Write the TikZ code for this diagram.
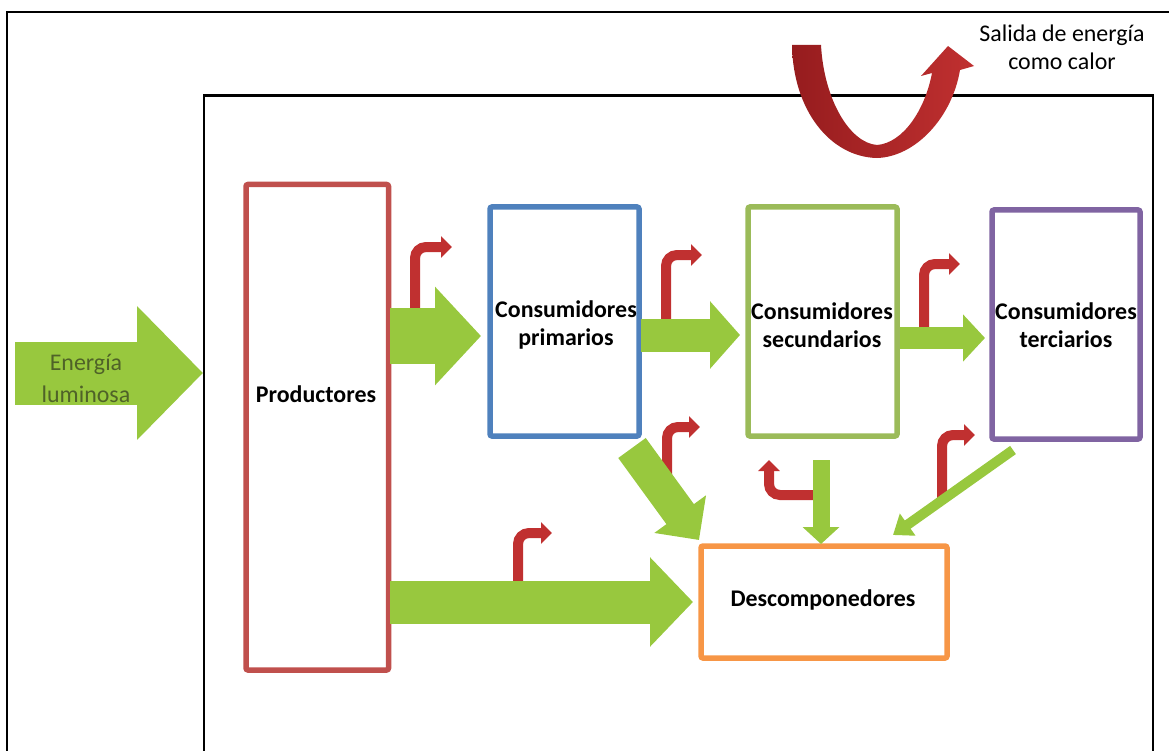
\documentclass[tikz,border=0pt]{standalone}
\usepackage{fontspec}
\setmainfont{Carlito}
\usetikzlibrary{arrows.meta}
\definecolor{prodred}{RGB}{192,80,77}
\definecolor{primblue}{RGB}{79,129,189}
\definecolor{secgreen}{RGB}{155,187,89}
\definecolor{terpurple}{RGB}{128,100,162}
\definecolor{descorange}{RGB}{247,150,70}
\definecolor{flowgreen}{RGB}{152,200,62}
\definecolor{heatred}{RGB}{192,48,48}
\definecolor{heatdark}{RGB}{150,28,30}
\definecolor{olivetext}{RGB}{79,98,40}
\begin{document}
\begin{tikzpicture}[x=1bp,y=-1bp,
  box/.style={draw, line width=5.5bp, rounded corners=2bp, inner sep=0pt, fill=none},
  lbl/.style={font=\fontsize{24}{28}\selectfont\bfseries, align=center, text=black, inner sep=0pt},
  plain/.style={font=\fontsize{24}{28}\selectfont, align=center, inner sep=0pt},
  frame/.style={draw=black, line width=2.5bp},
  gflow/.style={draw=flowgreen, line cap=butt},
  heat/.style={draw=heatred, line width=10bp, rounded corners=11bp,
    -{Triangle[length=11bp,width=21bp]}}]
\useasboundingbox (0,0) rectangle (1169,751);
\clip (0,0) rectangle (1169,751);
% frames
\draw[frame] (7,760) -- (7,12) -- (1175,12);
\draw[frame] (204,760) -- (204,95.5) -- (1153,95.5) -- (1153,760);
% boxes
\node[box, draw=prodred, minimum width=142.5bp, minimum height=485.5bp] (prod) at (317.25,427.25) {};
\node[box, draw=primblue, minimum width=149bp, minimum height=229bp] (prim) at (564.5,321.5) {};
\node[box, draw=secgreen, minimum width=149bp, minimum height=229bp] (sec) at (822.5,321.5) {};
\node[box, draw=terpurple, minimum width=148bp, minimum height=229bp] (ter) at (1066,324.5) {};
\node[box, draw=descorange, minimum width=246bp, minimum height=112bp] (desc) at (824,602) {};
% labels
\node[lbl] (prodL) at (316,394) {Productores};
\node[lbl] (primL) at (566,325) {Consumidores\\primarios};
\node[lbl] (secL) at (822,325) {Consumidores\\secundarios};
\node[lbl] (terL) at (1066,325) {Consumidores\\terciarios};
\node[lbl] (descL) at (823,600) {Descomponedores};
% coordinates for flows
\coordinate (inS) at (15,373);   \coordinate (inE) at (203,373);
\coordinate (g2s) at (390,336);  \coordinate (g2e) at (481,336);
\coordinate (g3s) at (641,335);  \coordinate (g3e) at (740,335);
\coordinate (g4s) at (900,338);  \coordinate (g4e) at (985,338);
\coordinate (g5s) at (390,602);  \coordinate (g5e) at (693,602);
\coordinate (g6s) at (632,448);  \coordinate (g6e) at (699,540);
\coordinate (g7s) at (821,460);  \coordinate (g7e) at (821,544);
\coordinate (g8s) at (1013,450); \coordinate (g8e) at (893,535);
% heat loss arrows
\coordinate (r1s) at (415,318); \coordinate (r1e) at (452,247);
\coordinate (r2s) at (666,322); \coordinate (r2e) at (702,255);
\coordinate (r3s) at (924,330); \coordinate (r3e) at (960,264);
\coordinate (r4s) at (518,584); \coordinate (r4e) at (552,533);
\coordinate (r5s) at (667,488); \coordinate (r5e) at (700,427);
\coordinate (r6s) at (815,495); \coordinate (r6e) at (769,460);
\coordinate (r7s) at (942,499); \coordinate (r7e) at (975,435);
\draw[heat] (r1s) |- (r1e);
\draw[heat] (r2s) |- (r2e);
\draw[heat] (r3s) |- (r3e);
\draw[heat] (r4s) |- (r4e);
\draw[heat] (r5s) |- (r5e);
\draw[heat] (r6s) -| (r6e);
\draw[heat] (r7s) |- (r7e);
% green flows
\draw[gflow, line width=63bp, -{Triangle[length=66bp,width=130bp]}] (inS) -- (inE);
\draw[gflow, line width=56bp, -{Triangle[length=46bp,width=96bp]}] (g2s) -- (g2e);
\draw[gflow, line width=33bp, -{Triangle[length=30bp,width=66bp]}] (g3s) -- (g3e);
\draw[gflow, line width=22bp, -{Triangle[length=22bp,width=46bp]}] (g4s) -- (g4e);
\draw[gflow, line width=43bp, -{Triangle[length=43bp,width=87bp]}] (g5s) -- (g5e);
\draw[gflow, line width=34bp, -{Triangle[length=32bp,width=62bp]}] (g6s) -- (g6e);
\draw[gflow, line width=17bp, -{Triangle[length=17bp,width=36bp]}] (g7s) -- (g7e);
\draw[gflow, line width=10bp, -{Triangle[length=18bp,width=26bp]}] (g8s) -- (g8e);
\node[plain, text=olivetext, font=\fontsize{24}{32}\selectfont] (inL) at (86,378) {Energía\\luminosa};
% big heat output arrow
\shade[left color=heatdark, right color=heatred]
  (792,45) -- (821,45) .. controls (824,100) and (850,143) .. (877,145)
  .. controls (903,143) and (925,110) .. (932,73) -- (921,76) -- (948,46)
  -- (974,66) -- (960,70) .. controls (952,118) and (915,157) .. (877,158)
  .. controls (830,157) and (793,110) .. (792,45) -- cycle;
\node[plain] (outL) at (1062,47) {Salida de energía\\como calor};
\end{tikzpicture}
\end{document}
